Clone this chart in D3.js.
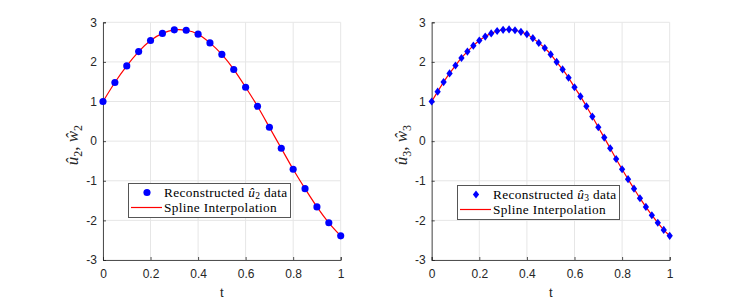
<!DOCTYPE html>
<html>
<head>
<meta charset="utf-8">
<script src="https://cdn.jsdelivr.net/npm/d3@7"></script>
<style>
  body { margin: 0; background: #fff; }
  svg { display: block; }
</style>
</head>
<body>
<div id="main-container"></div>
<script>
// DATA
const t2 = [0, 0.05, 0.1, 0.15, 0.2, 0.25, 0.3, 0.35, 0.4, 0.45, 0.5,
            0.55, 0.6, 0.65, 0.7, 0.75, 0.8, 0.85, 0.9, 0.95, 1];
const u2 = [1.0, 1.48, 1.90, 2.26, 2.54, 2.72, 2.81, 2.80, 2.70, 2.48, 2.19,
            1.81, 1.36, 0.88, 0.35, -0.18, -0.71, -1.20, -1.66, -2.06, -2.39];

const t3 = [0, 0.025, 0.05, 0.075, 0.1, 0.125, 0.15, 0.175, 0.2, 0.225, 0.25,
            0.275, 0.3, 0.325, 0.35, 0.375, 0.4, 0.425, 0.45, 0.475, 0.5,
            0.525, 0.55, 0.575, 0.6, 0.625, 0.65, 0.675, 0.7, 0.725, 0.75,
            0.775, 0.8, 0.825, 0.85, 0.875, 0.9, 0.925, 0.95, 0.975, 1];
const u3 = [1.0, 1.25, 1.49, 1.71, 1.91, 2.10, 2.26, 2.41, 2.54, 2.64, 2.72,
            2.78, 2.81, 2.82, 2.80, 2.76, 2.70, 2.60, 2.48, 2.35, 2.19,
            2.00, 1.81, 1.60, 1.36, 1.13, 0.88, 0.62, 0.35, 0.09, -0.18,
            -0.45, -0.71, -0.96, -1.20, -1.44, -1.66, -1.87, -2.06, -2.24, -2.39];

const xTicks = [0, 0.2, 0.4, 0.6, 0.8, 1];
const yTicks = [-3, -2, -1, 0, 1, 2, 3];

// DRAWING SETUP
const W = 747, H = 299;
const svg = d3.select("#main-container").append("svg")
    .attr("width", W).attr("height", H);

const axisColor = "#262626";
const gridColor = "#e6e6e6";
const sansFont = "'Liberation Sans', Arial, sans-serif";
const serifFont = "'Liberation Serif', 'DejaVu Serif', serif";

function drawPanel(opts) {
    const x = d3.scaleLinear().domain([0, 1]).range([opts.x0, opts.x1]);
    const y = d3.scaleLinear().domain([-3, 3]).range([260, 22.3]);
    const g = svg.append("g");

    // grid
    g.selectAll(".gx").data(xTicks).enter().append("line")
        .attr("x1", d => x(d)).attr("x2", d => x(d))
        .attr("y1", y(-3)).attr("y2", y(3))
        .attr("stroke", gridColor).attr("stroke-width", 1);
    g.selectAll(".gy").data(yTicks).enter().append("line")
        .attr("x1", x(0)).attr("x2", x(1))
        .attr("y1", d => y(d)).attr("y2", d => y(d))
        .attr("stroke", gridColor).attr("stroke-width", 1);

    // axes
    const xAxis = d3.axisBottom(x).tickValues(xTicks).tickSize(-3).tickPadding(7)
        .tickFormat(d => d === 0 || d === 1 ? String(d) : d.toFixed(1));
    const yAxis = d3.axisLeft(y).tickValues(yTicks).tickSize(-3).tickPadding(6)
        .tickFormat(d => String(d));

    const gx = g.append("g").attr("transform", `translate(0,${y(-3)})`).call(xAxis);
    const gy = g.append("g").attr("transform", `translate(${x(0)},0)`).call(yAxis);
    [gx, gy].forEach(a => {
        a.select(".domain").attr("stroke", axisColor).attr("stroke-width", 0.8);
        a.selectAll(".tick line").attr("stroke", axisColor).attr("stroke-width", 0.8);
        a.selectAll("text").attr("fill", axisColor)
            .style("font-family", sansFont)
            .style("font-size", "12px");
    });
    gx.selectAll("text").attr("dy", "0.9em");

    // axis labels
    g.append("text")
        .attr("x", (x(0) + x(1)) / 2).attr("y", 297)
        .attr("text-anchor", "middle")
        .attr("fill", axisColor)
        .style("font-family", sansFont)
        .style("font-size", "13px")
        .text("t");

    const yl = g.append("text")
        .attr("transform", `translate(${x(0) - 25},${y(0) + 4}) rotate(-90)`)
        .attr("text-anchor", "middle")
        .attr("fill", axisColor)
        .style("font-family", serifFont)
        .style("font-size", "17px");
    yl.append("tspan").style("font-style", "italic").text("û");
    yl.append("tspan").attr("dy", 4).style("font-size", "12px").text(opts.idx);
    yl.append("tspan").attr("dy", -4).text(", ");
    yl.append("tspan").style("font-style", "italic").text("ŵ");
    yl.append("tspan").attr("dy", 4).style("font-size", "12px").text(opts.idx);

    // spline through the data
    const line = d3.line()
        .x((d, i) => x(opts.t[i]))
        .y(d => y(d))
        .curve(d3.curveNatural);
    g.append("path")
        .datum(opts.u)
        .attr("d", line)
        .attr("fill", "none")
        .attr("stroke", "#ff0000")
        .attr("stroke-width", 1.2);

    // markers
    const isDiamond = opts.marker === "diamond";
    const sym = d3.symbol().type(isDiamond ? d3.symbolDiamond2 : d3.symbolCircle)
        .size(isDiamond ? 25 : 40);
    const markerT = isDiamond ? "scale(1,1.3)" : "";
    g.selectAll(".pt").data(opts.u).enter().append("path")
        .attr("d", sym)
        .attr("transform", (d, i) => `translate(${x(opts.t[i])},${y(d)}) ${markerT}`)
        .attr("fill", "#0000ff");

    // legend
    const lg = g.append("g").attr("transform", `translate(${opts.lx},${opts.ly})`);
    lg.append("rect")
        .attr("x", 0.5).attr("y", 0.5).attr("width", 162).attr("height", 34)
        .attr("fill", "#fff").attr("stroke", "#555").attr("stroke-width", 1);
    lg.append("path")
        .attr("d", sym)
        .attr("transform", `translate(19,9.5) ${markerT}`)
        .attr("fill", "#0000ff");
    lg.append("line")
        .attr("x1", 3).attr("x2", 34).attr("y1", 24.5).attr("y2", 24.5)
        .attr("stroke", "#ff0000").attr("stroke-width", 1.2);
    const l1 = lg.append("text").attr("x", 36).attr("y", 13.5)
        .attr("fill", "#000").style("font-family", serifFont)
        .style("font-size", "13.3px").style("letter-spacing", "0.35px");
    l1.append("tspan").text("Reconstructed ");
    l1.append("tspan").style("font-style", "italic").text("û");
    l1.append("tspan").attr("dy", 2.5).style("font-size", "9.5px").text(opts.idx);
    l1.append("tspan").attr("dy", -2.5).text(" data");
    lg.append("text").attr("x", 36).attr("y", 29)
        .attr("fill", "#000").style("font-family", serifFont)
        .style("font-size", "13.3px").style("letter-spacing", "0.35px")
        .text("Spline Interpolation");
}

drawPanel({x0: 103, x1: 340.7, t: t2, u: u2, idx: "2", marker: "circle", lx: 128, ly: 183});
drawPanel({x0: 431.7, x1: 669.7, t: t3, u: u3, idx: "3", marker: "diamond", lx: 457, ly: 185});
</script>
</body>
</html>
